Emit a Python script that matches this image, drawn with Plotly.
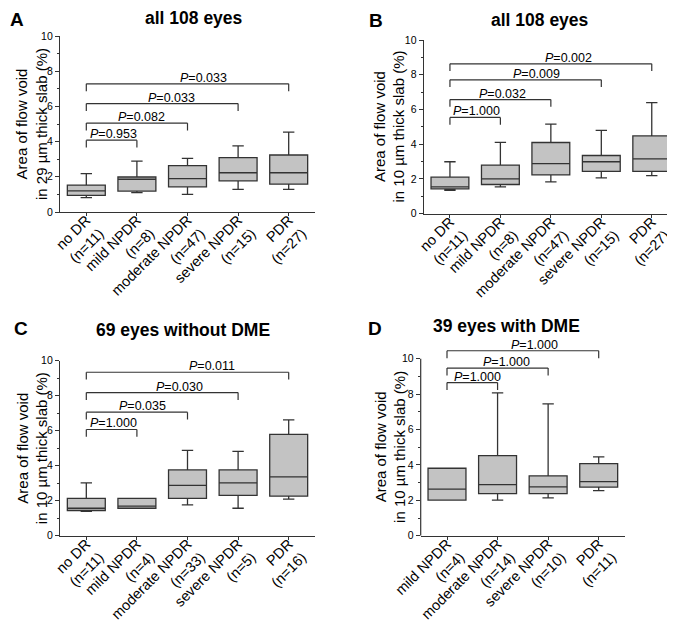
import plotly.graph_objects as go

W, H = 675, 621
FONT = "Liberation Sans, Arial, sans-serif"

# ---------------- data ----------------
cats_A = ["no DR<br>(n=11)", "mild NPDR<br>(n=8)", "moderate NPDR<br>(n=47)", "severe NPDR<br>(n=15)", "PDR<br>(n=27)"]
low_A = [0.82, 1.10, 1.00, 1.28, 1.28]
q1_A = [0.95, 1.19, 1.43, 1.77, 1.58]
med_A = [1.20, 1.86, 1.90, 2.23, 2.23]
q3_A = [1.53, 1.99, 2.63, 3.09, 3.24]
high_A = [2.18, 2.89, 3.05, 3.76, 4.54]
p_A = ["0.953", "0.082", "0.033", "0.033"]
bar_A = [4.08, 5.05, 6.16, 7.28]

cats_B = ["no DR<br>(n=11)", "mild NPDR<br>(n=8)", "moderate NPDR<br>(n=47)", "severe NPDR<br>(n=15)", "PDR<br>(n=27)"]
low_B = [1.35, 1.54, 1.83, 2.06, 2.19]
q1_B = [1.43, 1.68, 2.23, 2.44, 2.44]
med_B = [1.54, 2.00, 2.88, 2.99, 3.16]
q3_B = [2.10, 2.80, 4.10, 3.35, 4.48]
high_B = [2.99, 4.11, 5.16, 4.80, 6.40]
p_B = ["1.000", "0.032", "0.009", "0.002"]
bar_B = [5.54, 6.57, 7.71, 8.63]

cats_C = ["no DR<br>(n=11)", "mild NPDR<br>(n=4)", "moderate NPDR<br>(n=33)", "severe NPDR<br>(n=5)", "PDR<br>(n=16)"]
low_C = [1.39, 1.57, 1.76, 1.57, 2.09]
q1_C = [1.44, 1.57, 2.13, 2.31, 2.26]
med_C = [1.57, 1.69, 2.88, 3.02, 3.36]
q3_C = [2.13, 2.13, 3.76, 3.76, 5.79]
high_C = [3.02, 2.13, 4.88, 4.82, 6.62]
p_C = ["1.000", "0.035", "0.030", "0.011"]
bar_C = [6.07, 7.06, 8.18, 9.34]

cats_D = ["mild NPDR<br>(n=4)", "moderate NPDR<br>(n=14)", "severe NPDR<br>(n=10)", "PDR<br>(n=11)"]
low_D = [2.01, 2.01, 2.14, 2.55]
q1_D = [2.01, 2.38, 2.38, 2.74]
med_D = [2.63, 2.89, 2.76, 3.06]
q3_D = [3.81, 4.52, 3.38, 4.07]
high_D = [3.81, 8.07, 7.45, 4.45]
p_D = ["1.000", "1.000", "1.000"]
bar_D = [8.65, 9.47, 10.45]

titles = ["all 108 eyes", "all 108 eyes", "69 eyes without DME", "39 eyes with DME"]
letters = ["A", "B", "C", "D"]
ytitles = ["Area of flow void<br>in 29 µm thick slab (%)",
           "Area of flow void<br>in 10 µm thick slab (%)",
           "Area of flow void<br>in 10 µm thick slab (%)",
           "Area of flow void<br>in 10 µm thick slab (%)"]

# ---------------- layout geometry (pixels) ----------------
# (left, right, y_of_0, y_of_10, ymax)
geo = [
    (52, 307, 204.0, 28.0, 10),
    (415.7, 670, 205.7, 32.0, 10),
    (52, 307, 527.7, 352.7, 10),
    (412.7, 617, 527.7, 350.7, 11),
]
ytitle_shift = [-28, -34, -28, -31]
label_x = [
    [0.53, 1.09, 1.69, 2.31],
    [0.53, 1.05, 1.71, 2.35],
    [0.53, 1.12, 1.84, 2.48],
    [0.60, 1.18, 1.73],
]
title_pos = [(186, 10), (532, 12), (175, 322), (498, 318)]
letter_pos = [(9, 12), (368, 13), (13, 320), (367, 320)]


def px2x(px):
    return px / W


def px2y(py):
    return 1 - py / H


panels = [
    (cats_A, low_A, q1_A, med_A, q3_A, high_A, p_A, bar_A),
    (cats_B, low_B, q1_B, med_B, q3_B, high_B, p_B, bar_B),
    (cats_C, low_C, q1_C, med_C, q3_C, high_C, p_C, bar_C),
    (cats_D, low_D, q1_D, med_D, q3_D, high_D, p_D, bar_D),
]

fig = go.Figure()
shapes, annotations = [], []
LINE = "#333333"
FILL = "#c3c3c3"

for i, (cats, lo, q1, med, q3, hi, pv, bars) in enumerate(panels):
    n = i + 1
    xa = "x" if n == 1 else f"x{n}"
    ya = "y" if n == 1 else f"y{n}"
    left, right, y0px, y10px, ymax = geo[i]
    unit = (y0px - y10px) / 10.0
    top_px = y0px - unit * ymax

    fig.add_trace(go.Box(
        x=cats, q1=q1, median=med, q3=q3, lowerfence=lo, upperfence=hi,
        xaxis=xa, yaxis=ya, width=0.75, whiskerwidth=0.3,
        fillcolor=FILL, line=dict(color=LINE, width=1.3),
        boxpoints=False, showlegend=False, hoverinfo="skip",
    ))

    xkey = "xaxis" if n == 1 else f"xaxis{n}"
    ykey = "yaxis" if n == 1 else f"yaxis{n}"
    ncat = len(cats)
    fig.layout[xkey] = dict(
        domain=[px2x(left), px2x(right)], anchor=ya, type="category",
        categoryorder="array", categoryarray=cats, automargin=False,
        range=[-0.52, ncat - 0.48], tickangle=-45, ticklabelstandoff=-10,
        tickfont=dict(size=14.5, color="black", family=FONT),
        showline=True, linecolor=LINE, linewidth=1.2,
        ticks="outside", ticklen=3, tickcolor=LINE, showgrid=False, zeroline=False,
    )
    fig.layout[ykey] = dict(
        domain=[px2y(y0px), px2y(top_px)], anchor=xa, automargin=False,
        range=[0, ymax], tickvals=[0, 2, 4, 6, 8, 10],
        tickfont=dict(size=10.5, color="black", family=FONT),
        showline=(ymax == 10), linecolor=LINE, linewidth=1.2,
        ticks="outside", ticklen=4, tickcolor=LINE, showgrid=False, zeroline=False,
        minor=dict(tickvals=[1, 3, 5, 7, 9], ticks="outside", ticklen=2, tickcolor=LINE),
    )
    if ymax != 10:
        shapes.append(dict(type="line", xref=f"{xa} domain", yref=ya, x0=0, x1=0, y0=0, y1=10,
                           line=dict(color=LINE, width=1.2)))

    # brackets
    for k, (pval, yb) in enumerate(zip(pv, bars)):
        leg = 0.42
        for (xs0, xs1, ys0, ys1) in [(0, 0, yb - leg, yb), (0, k + 1, yb, yb), (k + 1, k + 1, yb, yb - leg)]:
            shapes.append(dict(type="line", xref=xa, yref=ya, x0=xs0, x1=xs1, y0=ys0, y1=ys1,
                               line=dict(color=LINE, width=1.2)))
        annotations.append(dict(
            text=f"<i>P</i>={pval}", xref=xa, yref=ya, x=label_x[i][k], y=yb,
            xanchor="center", yanchor="bottom", yshift=-3, showarrow=False,
            font=dict(size=12.5, color="black", family=FONT),
        ))

    # y title
    annotations.append(dict(
        text=ytitles[i], xref=f"{xa} domain", yref=ya, x=0, y=5, xshift=ytitle_shift[i],
        xanchor="center", yanchor="middle", textangle=-90, showarrow=False,
        font=dict(size=15, color="black", family=FONT),
    ))
    # panel title
    tx, ty = title_pos[i]
    annotations.append(dict(
        text=f"<b>{titles[i]}</b>", xref="paper", yref="paper", x=px2x(tx), y=px2y(ty),
        xanchor="center", yanchor="middle", showarrow=False,
        font=dict(size=17.5, color="black", family=FONT),
    ))
    lx, ly = letter_pos[i]
    annotations.append(dict(
        text=f"<b>{letters[i]}</b>", xref="paper", yref="paper", x=px2x(lx), y=px2y(ly),
        xanchor="center", yanchor="middle", showarrow=False,
        font=dict(size=19, color="black", family=FONT),
    ))

fig.update_layout(
    width=W, height=H, margin=dict(l=0, r=0, t=0, b=0, autoexpand=False),
    paper_bgcolor="white", plot_bgcolor="white",
    font=dict(family=FONT, color="black"),
    shapes=shapes, annotations=annotations,
)
fig.write_html("out.html")
